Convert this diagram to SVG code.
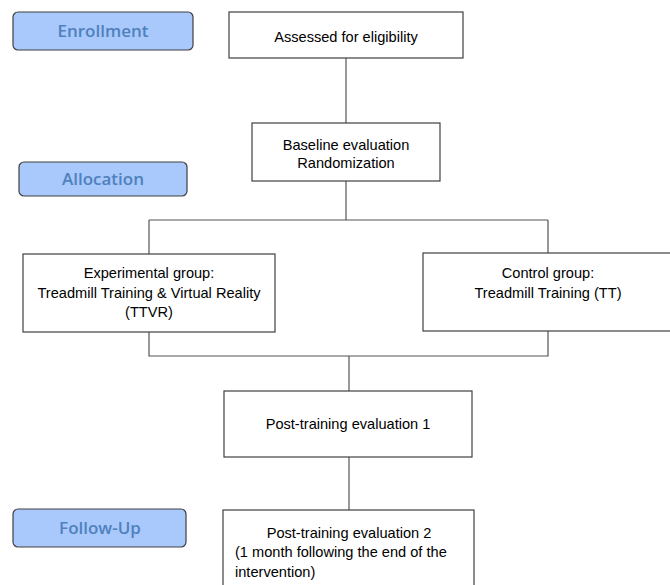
<svg xmlns="http://www.w3.org/2000/svg" width="670" height="585" viewBox="0 0 670 585">
<style>
.lbl rect{fill:#a9c8fb;stroke:#404040;stroke-width:1.2}
.lbl text{font-family:"Open Sans",sans-serif;font-weight:600;font-size:17px;fill:#4f81bd;text-anchor:middle}
.box rect{fill:#fff;stroke:#404040;stroke-width:1.2}
.box text{font-family:"Liberation Sans",Arial,sans-serif;font-size:14.6px;fill:#000;text-anchor:middle}
.box text.l{text-anchor:start}
#connectors path{fill:none;stroke:#555;stroke-width:1.2}
</style>
<rect width="670" height="585" fill="#fff"/>
<g id="connectors">
<path d="M346 58V123"/>
<path d="M346 181V220M149 220H548M149 220V254M548 220V253"/>
<path d="M149 332V356H548V331M349 356V391"/>
<path d="M349 457V510"/>
</g>
<g id="enrollment" class="lbl"><rect x="13" y="12" width="180" height="38" rx="5"/><text x="103" y="37">Enrollment</text></g>
<g id="allocation" class="lbl"><rect x="19" y="162" width="168" height="34" rx="5"/><text x="103" y="185">Allocation</text></g>
<g id="followup" class="lbl"><rect x="13" y="509" width="173" height="38" rx="5"/><text x="100" y="534">Follow-Up</text></g>
<g id="assessed" class="box"><rect x="229" y="12" width="234" height="46"/><text x="346" y="42">Assessed for eligibility</text></g>
<g id="baseline" class="box"><rect x="252" y="123" width="188" height="58"/><text x="346" y="150">Baseline evaluation</text><text x="346" y="168">Randomization</text></g>
<g id="experimental" class="box"><rect x="23" y="254" width="252" height="78"/><text x="149" y="278">Experimental group:</text><text x="149" y="298">Treadmill Training &amp; Virtual Reality</text><text x="149" y="317">(TTVR)</text></g>
<g id="control" class="box"><rect x="423" y="253" width="260" height="78"/><text x="548" y="278">Control group:</text><text x="548" y="298">Treadmill Training (TT)</text></g>
<g id="post1" class="box"><rect x="224" y="391" width="248" height="66"/><text x="348" y="429">Post-training evaluation 1</text></g>
<g id="post2" class="box"><rect x="223" y="510" width="251" height="90"/><text x="349" y="538">Post-training evaluation 2</text><text class="l" x="235" y="557">(1 month following the end of the</text><text class="l" x="235" y="577">intervention)</text></g>
</svg>
